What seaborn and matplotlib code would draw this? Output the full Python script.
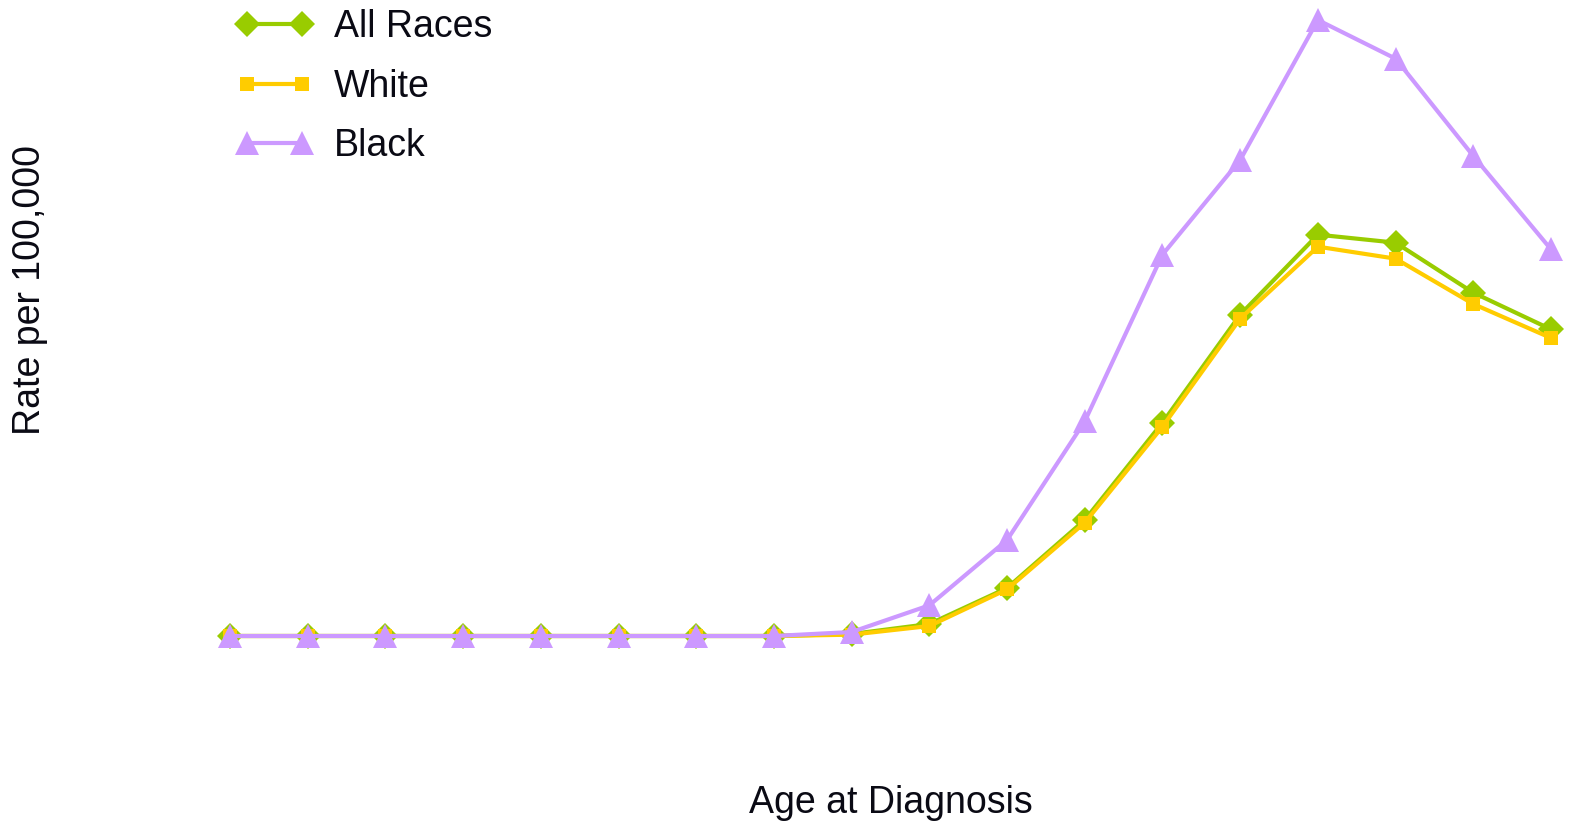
import matplotlib
matplotlib.use("Agg")
import matplotlib.pyplot as plt
import seaborn as sns
import pandas as pd

# age groups (x axis categories, ticks hidden in the original)
ages = ["00-04", "05-09", "10-14", "15-19", "20-24", "25-29", "30-34", "35-39",
        "40-44", "45-49", "50-54", "55-59", "60-64", "65-69", "70-74", "75-79",
        "80-84", "85+"]

# rates per 100,000 (approximate)
all_races = [0, 0, 0, 0, 0, 0, 0, 0, 3, 18, 72, 174, 320, 482, 602, 590, 515, 460]
white = [0, 0, 0, 0, 0, 0, 0, 0, 2, 15, 70, 170, 314, 476, 584, 566, 498, 447]
black = [0, 0, 0, 0, 0, 0, 0, 0, 6, 46, 144, 322, 572, 714, 924, 866, 720, 580]

series = ["All Races", "White", "Black"]
colors = {"All Races": "#99CC00", "White": "#FFCC00", "Black": "#CC99FF"}
markers = {"All Races": "D", "White": "s", "Black": "^"}
msizes = {"All Races": 13, "White": 9.5, "Black": 17}

df = pd.DataFrame({"age": ages * 3,
                   "rate": all_races + white + black,
                   "race": [s for s in series for _ in ages]})

sns.set_style("white")
plt.rcParams["font.family"] = ["Liberation Sans", "DejaVu Sans"]
txt = "#0a0a14"

fig = plt.figure(figsize=(15.75, 8.31), dpi=100)
W, H = 1575, 831
left, right, top, base = 230, 1551, 20, 636
ax = fig.add_axes([left / W, 1 - base / H, (right - left) / W, (base - top) / H])

for s in series:
    d = df[df["race"] == s]
    sns.lineplot(data=d, x="age", y="rate", ax=ax, sort=False, color=colors[s],
                 marker=markers[s], markersize=msizes[s], markeredgewidth=0,
                 linewidth=3, label=s, clip_on=False)

ax.set_xlim(0, len(ages) - 1)
ax.set_ylim(0, 924)
ax.set_xticks([])
ax.set_yticks([])
ax.set_xlabel("")
ax.set_ylabel("")
for sp in ax.spines.values():
    sp.set_visible(False)

leg = ax.legend(loc="upper left",
                bbox_to_anchor=((236 - left) / (right - left), 1 + 11 / (base - top)),
                frameon=False, fontsize=27, numpoints=2, handlelength=2.07,
                handletextpad=0.55, labelspacing=0.63, borderaxespad=0, borderpad=0)
for t in leg.get_texts():
    t.set_color(txt)

fig.text(891 / W, 1 - 803 / H, "Age at Diagnosis", ha="center", va="center",
         fontsize=27, color=txt)
fig.text(30 / W, 1 - 290 / H, "Rate per 100,000", ha="center", va="center",
         rotation=90, fontsize=27, color=txt)

fig.savefig("out.png", dpi=100)
